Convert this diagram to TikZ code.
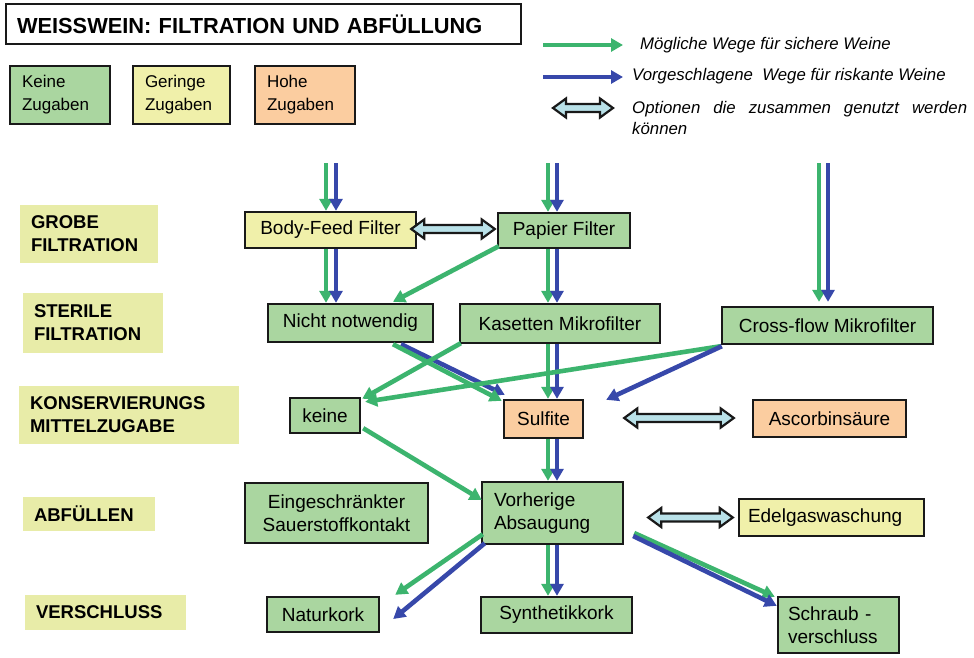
\documentclass[tikz,border=0pt]{standalone}
\usepackage{fontspec}
\setmainfont{Liberation Sans}
\usetikzlibrary{arrows.meta,calc}
\definecolor{garr}{RGB}{60,180,110}
\definecolor{barr}{RGB}{55,72,170}
\definecolor{gfill}{RGB}{170,214,160}
\definecolor{yfill}{RGB}{240,240,170}
\definecolor{ofill}{RGB}{251,205,160}
\definecolor{lfill}{RGB}{232,236,168}
\definecolor{dfill}{RGB}{185,225,232}
\newcommand\nfont{\fontsize{19}{22.5}\selectfont}
\newcommand\lfont{\fontsize{17}{23}\selectfont}
\newcommand\sfont{\fontsize{18.5}{23}\selectfont\bfseries}
\newcommand\efont{\fontsize{16.8}{21}\selectfont\itshape}
\newcommand\dblarr[2]{\draw[dblstyle] (#1) -- ($(#1)+(13,-9.5)$) -- ($(#1)+(13,-4)$) -- ($(#2)+(-13,-4)$) -- ($(#2)+(-13,-9.5)$) -- (#2) -- ($(#2)+(-13,9.5)$) -- ($(#2)+(-13,4)$) -- ($(#1)+(13,4)$) -- ($(#1)+(13,9.5)$) -- cycle;}
\begin{document}
\begin{tikzpicture}[x=1pt,y=-1pt,
  box/.style={draw=black!90, line width=2.4pt, font=\nfont, inner xsep=6pt, inner ysep=0pt, align=center},
  gbox/.style={box, fill=gfill},
  ybox/.style={box, fill=yfill},
  obox/.style={box, fill=ofill},
  lbox/.style={draw=black!90, line width=2.4pt, font=\lfont, inner xsep=12pt, inner ysep=0pt, align=left},
  stage/.style={fill=lfill, font=\sfont, inner xsep=11pt, inner ysep=0pt, align=left},
  ga/.style={draw=garr, line width=4.6pt, -{Triangle[length=12pt,width=13pt]}},
  ba/.style={draw=barr, line width=4.6pt, -{Triangle[length=12pt,width=13pt]}},
  dblstyle/.style={draw=black!90, fill=dfill, line width=2.2pt, line join=miter}
]
\fill[white] (0,0) rectangle (974,657);
\useasboundingbox (0,0) rectangle (974,657);

% title
\node[draw=black!90, line width=2.6pt, minimum height=40pt, text width=493pt, inner xsep=11pt, align=left,
  font=\fontsize{21.8}{24}\selectfont\bfseries] (title) at (263.5,24) {WEISSWEIN: FILTRATION UND ABFÜLLUNG};

% legend boxes
\node[lbox, fill=gfill, minimum height=58pt, text width=76pt] (lk) at (60,95) {Keine\\Zugaben};
\node[lbox, fill=yfill, minimum height=58pt, text width=73pt] (lg) at (181.5,95) {Geringe\\Zugaben};
\node[lbox, fill=ofill, minimum height=58pt, text width=76pt] (lh) at (305,95) {Hohe\\Zugaben};

% legend arrows
\coordinate (l1a) at (543,45); \coordinate (l1b) at (623,45);
\coordinate (l2a) at (543,77); \coordinate (l2b) at (623,77);
\coordinate (l3a) at (553,108); \coordinate (l3b) at (613,108);
\draw[ga] (l1a) -- (l1b);
\draw[ba] (l2a) -- (l2b);
\dblarr{l3a}{l3b}
\node[anchor=west, font=\efont, inner sep=3pt] (l1t) at (637,45) {Mögliche Wege für sichere Weine};
\node[anchor=west, font=\efont, inner sep=3pt] (l2t) at (629,76) {Vorgeschlagene\ \ Wege für riskante Weine};
\node[anchor=west, font=\efont, inner sep=3pt, text width=335pt, align=justify] (l3t) at (629,117.5) {Optionen die zusammen genutzt werden \mbox{können}};

% stage labels
\node[stage, minimum height=58pt, text width=116pt] (s1) at (89,234) {GROBE\\FILTRATION};
\node[stage, minimum height=60pt, text width=118pt] (s2) at (93,323) {STERILE\\FILTRATION};
\node[stage, minimum height=58pt, text width=198pt] (s3) at (129,415) {KONSERVIERUNGS\\MITTELZUGABE};
\node[stage, minimum height=34pt, text width=110pt] (s4) at (89,514) {ABFÜLLEN};
\node[stage, minimum height=35pt, text width=139pt] (s5) at (105.5,612.5) {VERSCHLUSS};

% main nodes
\node[ybox, minimum width=171pt, minimum height=36pt] (bf) at (330.5,230) {Body-Feed Filter};
\node[gbox, minimum width=132pt, minimum height=35pt] (pf) at (564,230.5) {Papier Filter};
\node[gbox, minimum width=165pt, minimum height=38pt] (nn) at (350.5,323) {Nicht notwendig};
\node[gbox, minimum width=200pt, minimum height=39pt] (km) at (560,323.5) {Kasetten Mikrofilter};
\node[gbox, minimum width=211pt, minimum height=37pt] (cf) at (827.5,325.5) {Cross-flow Mikrofilter};
\node[gbox, minimum width=70pt, minimum height=35pt] (ke) at (325,415.5) {keine};
\node[obox, minimum width=79pt, minimum height=38pt] (su) at (543.5,419) {Sulfite};
\node[obox, minimum width=153pt, minimum height=37pt] (as) at (829.5,418.5) {Ascorbinsäure};
\node[gbox, minimum width=183pt, minimum height=60pt] (es) at (336.5,513) {Eingeschränkter\\Sauerstoffkontakt};
\node[gbox, minimum height=62pt, text width=117pt, inner xsep=12pt, align=left] (va) at (552.5,513) {Vorherige\\Absaugung};
\node[ybox, minimum height=37pt, text width=167pt, inner xsep=9pt, align=left] (eg) at (831.5,517.5) {Edelgaswaschung};
\node[gbox, minimum width=112pt, minimum height=35pt] (nk) at (323,614.5) {Naturkork};
\node[gbox, minimum width=151pt, minimum height=36pt] (sk) at (556.5,615) {Synthetikkork};
\node[gbox, minimum height=56pt, text width=101pt, inner xsep=10pt, align=left] (sv) at (838.5,625) {Schraub -\\verschluss};

% column coordinates
\coordinate (c1g) at (326,163); \coordinate (c1b) at (336,163);
\coordinate (c2g) at (548,163); \coordinate (c2b) at (557,163);
\coordinate (c3g) at (819,163); \coordinate (c3b) at (828,163);

% vertical arrows
\draw[ga] (c1g) -- (bf.north -| c1g);
\draw[ba] (c1b) -- (bf.north -| c1b);
\draw[ga] (bf.south -| c1g) -- (nn.north -| c1g);
\draw[ba] (bf.south -| c1b) -- (nn.north -| c1b);
\draw[ga] (c2g) -- (pf.north -| c2g);
\draw[ba] (c2b) -- (pf.north -| c2b);
\draw[ga] (pf.south -| c2g) -- (km.north -| c2g);
\draw[ba] (pf.south -| c2b) -- (km.north -| c2b);
\draw[ga] (km.south -| c2g) -- (su.north -| c2g);
\draw[ba] (km.south -| c2b) -- (su.north -| c2b);
\draw[ga] (su.south -| c2g) -- (va.north -| c2g);
\draw[ba] (su.south -| c2b) -- (va.north -| c2b);
\draw[ga] (va.south -| c2g) -- (sk.north -| c2g);
\draw[ba] (va.south -| c2b) -- (sk.north -| c2b);
\draw[ga] (c3g) -- ($(cf.north -| c3g)+(0,-4)$);
\draw[ba] (c3b) -- ($(cf.north -| c3b)+(0,-4)$);

% diagonal arrows
\draw[ga] ($(pf.south west)+(2,-3)$) -- ($(nn.north)+(42.5,-1)$);
\draw[ba] ($(nn.south)+(50.5,1)$) -- ($(su.north west)+(2,-4)$);
\draw[ga] ($(nn.south)+(42.5,1)$) -- ($(su.north west)+(-1,2)$);
\draw[ga] ($(km.south west)+(2,-1)$) -- ($(ke.north east)+(1,2)$);
\draw[ga] ($(cf.south west)+(0,1)$) -- ($(ke.north east)+(4,5)$);
\draw[ba] ($(cf.south west)+(1,1)$) -- ($(su.north east)+(22,1)$);
\draw[ga] ($(ke.south east)+(2,-6)$) -- ($(va.west)+(1,-13)$);
\draw[ga] ($(va.south west)+(2,-11)$) -- ($(nk.north east)+(15,-1)$);
\draw[ba] ($(va.south west)+(4,-2)$) -- ($(nk.east)+(13,4.5)$);
\draw[ga] ($(va.east)+(10,20)$) -- ($(sv.north west)+(-2,1)$);
\draw[ba] ($(va.east)+(9,23)$) -- ($(sv.north west)+(0,10)$);

% double arrows
\coordinate (d1a) at ($(bf.east)+(-6,-1)$);
\coordinate (d1b) at ($(pf.west)+(-2,-1.5)$);
\coordinate (d2a) at ($(su.east)+(40,-1)$);
\coordinate (d2b) at ($(as.west)+(-18,-0.5)$);
\coordinate (d3b) at ($(eg.west)+(-5,0)$);
\coordinate (d3a) at ($(va.east |- eg.west)+(24,0)$);
\dblarr{d1a}{d1b}
\dblarr{d2a}{d2b}
\dblarr{d3a}{d3b}
\end{tikzpicture}
\end{document}
